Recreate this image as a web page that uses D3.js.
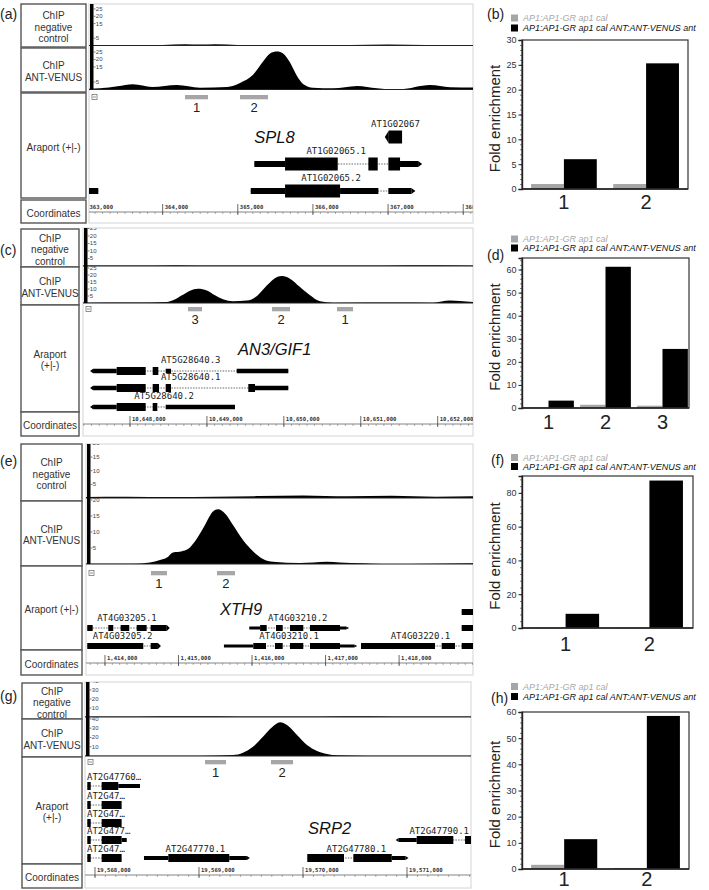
<!DOCTYPE html>
<html><head><meta charset="utf-8">
<script src="https://cdn.jsdelivr.net/npm/d3@7"></script>
<style>body{margin:0;background:#fff} svg{display:block}</style>
</head><body>
<script>
// ================= DATA =================
// qPCR fold enrichment (right column)
const legendLabels = ["AP1:AP1-GR ap1 cal", "AP1:AP1-GR ap1 cal ANT:ANT-VENUS ant"];
const spl8Regions = ["1", "2"];
const spl8Control = [1.0, 1.0];
const spl8Ant = [6.0, 25.3];
const spl8Ticks = [0, 5, 10, 15, 20, 25, 30];

const an3Regions = ["1", "2", "3"];
const an3Control = [0.2, 1.4, 1.0];
const an3Ant = [3.2, 61.2, 25.6];
const an3Ticks = [0, 10, 20, 30, 40, 50, 60];

const xth9Regions = ["1", "2"];
const xth9Control = [0.1, 0.1];
const xth9Ant = [8.4, 87.3];
const xth9Ticks = [0, 20, 40, 60, 80];

const srp2Regions = ["1", "2"];
const srp2Control = [1.6, 0.4];
const srp2Ant = [11.4, 58.5];
const srp2Ticks = [0, 10, 20, 30, 40, 50, 60];

// Track label texts
const trackLabelsA = [["ChIP", "negative", "control"], ["ChIP", "ANT-VENUS"], ["Araport (+|-)"], ["Coordinates"]];
const trackLabelsB = [["ChIP", "negative", "control"], ["ChIP", "ANT-VENUS"], ["Araport", "(+|-)"], ["Coordinates"]];

// ---- SPL8 locus (a)
const spl8Region = [363020, 368130];
const spl8CoordTicks = [363000, 364000, 365000, 366000, 367000, 368000];
const spl8NegTicks = [5, 15, 20, 25];
const spl8AntTicks = [5, 15, 20, 25];
const spl8CtrlPos = [363020, 363500, 364000, 364300, 364500, 364700, 365000, 365500, 366000, 366500, 367000, 367500, 368130];
const spl8CtrlVal = [0.3, 0.2, 0.3, 0.8, 0.6, 0.9, 0.4, 0.3, 0.4, 0.3, 0.6, 0.3, 0.3];
const spl8CovPos = [363020, 363166, 363400, 363606, 363859, 364191, 364497, 364857, 365030, 365203, 365336, 365429, 365522, 365602, 365695, 365788, 365868, 366001, 366267, 366587, 366853, 366986, 367159, 367558, 367825, 368130];
const spl8CovVal = [0.5, 0.8, 2.2, 3.5, 1.7, 3.0, 1.2, 1.7, 4.4, 9.8, 18.6, 24.0, 25.3, 24.0, 17.9, 9.0, 3.7, 1.2, 0.8, 2.4, 0.8, 0.2, 0.2, 3.0, 1.5, 1.3];
const spl8Primers = [[364298, 364604, "1"], [365030, 365402, "2"]];
const spl8Name = ["SPL8", 365220];
const spl8Genes = [
  {name: "AT1G02067", row: 0, strand: "-", blocks: [[367010, 367186, "c"]]},
  {name: "AT1G02065.1", row: 1, strand: "+", blocks: [[365220, 365629, "u"], [365629, 366330, "c"], [366738, 366862, "c"], [367004, 367159, "c"], [367159, 367400, "u"]]},
  {name: "AT1G02065.2", row: 2, strand: "+", blocks: [[365172, 365629, "u"], [365629, 366361, "c"], [366361, 366871, "u"], [367004, 367310, "u"]]},
  {name: "", row: 2, strand: "", blocks: [[362950, 363144, "u"]]}
];

// ---- AN3/GIF1 locus (c)
const an3Region = [10647389, 10652459];
const an3CoordTicks = [10648000, 10649000, 10650000, 10651000, 10652000];
const an3NegTicks = [5, 10, 15, 20, 25];
const an3AntTicks = [5, 10, 15, 20, 25];
const an3CtrlPos = [10647389, 10648000, 10648600, 10649200, 10649800, 10650400, 10651000, 10651600, 10652459];
const an3CtrlVal = [0.3, 0.3, 0.5, 0.3, 0.4, 0.3, 0.3, 0.5, 0.3];
const an3CovPos = [10647389, 10648000, 10648481, 10648559, 10648676, 10648780, 10648884, 10649000, 10649105, 10649209, 10649339, 10649521, 10649651, 10649781, 10649911, 10649976, 10650080, 10650210, 10650340, 10650470, 10650639, 10651500, 10651939, 10652160, 10652290, 10652459];
const an3CovVal = [0.2, 0.3, 0.7, 1.9, 5.5, 8.8, 10.2, 9.0, 5.5, 2.6, 1.2, 1.7, 5.0, 12.6, 18.6, 19.3, 17.4, 11.4, 5.5, 1.2, 0.2, 0.3, 0.2, 1.7, 1.4, 0.7];
const an3Primers = [[10648754, 10648936, "3"], [10649846, 10650080, "2"], [10650691, 10650899, "1"]];
const an3Name = ["AN3/GIF1", 10649404];
const an3Genes = [
  {name: "AT5G28640.3", row: 0, strand: "-", blocks: [[10647520, 10647827, "u"], [10647827, 10648204, "c"], [10648295, 10648368, "c"], [10648464, 10648533, "u"], [10649387, 10650058, "u"]]},
  {name: "AT5G28640.1", row: 1, strand: "-", blocks: [[10647520, 10647827, "u"], [10647827, 10648204, "c"], [10648295, 10648377, "c"], [10648464, 10648533, "c"], [10649538, 10649625, "c"], [10649625, 10650058, "u"]]},
  {name: "AT5G28640.2", row: 2, strand: "-", blocks: [[10647520, 10647827, "u"], [10647827, 10648204, "c"], [10648295, 10648355, "c"], [10648464, 10649365, "u"]]}
];

// ---- XTH9 locus (e)
const xth9Region = [1413742, 1419005];
const xth9CoordTicks = [1414000, 1415000, 1416000, 1417000, 1418000];
const xth9NegTicks = [5, 10, 15, 20];
const xth9AntTicks = [5, 10, 15, 20];
const xth9CtrlPos = [1413742, 1414300, 1414900, 1415500, 1416100, 1416700, 1417300, 1417900, 1418500, 1419005];
const xth9CtrlVal = [0.4, 0.5, 0.4, 0.5, 0.7, 0.9, 0.6, 0.8, 0.5, 0.6];
const xth9CovPos = [1413742, 1414100, 1414381, 1414612, 1414748, 1414843, 1414925, 1415047, 1415129, 1415251, 1415360, 1415469, 1415537, 1415632, 1415741, 1415877, 1416013, 1416149, 1416285, 1416652, 1417019, 1417196, 1417500, 1417781, 1418461, 1419005];
const xth9CovVal = [0.1, 0.1, 0.1, 0.5, 1.25, 2.0, 3.6, 4.0, 4.7, 8.0, 12.2, 16.4, 17.1, 15.8, 12.2, 7.5, 4.0, 1.6, 0.7, 0.3, 0.7, 0.5, 0.2, 0.0, 0.1, 0.2];
const xth9Primers = [[1414626, 1414843, "1"], [1415523, 1415768, "2"]];
const xth9Name = ["XTH9", 1415564];
const xth9Genes = [
  {name: "", row: 0, strand: "", blocks: [[1418851, 1419100, "c"]]},
  {name: "AT4G03205.1", row: 1, strand: "+", blocks: [[1413759, 1413833, "c"], [1414045, 1414113, "c"], [1414213, 1414330, "c"], [1414431, 1414567, "c"], [1414621, 1414840, "c"]]},
  {name: "AT4G03205.2", row: 2, strand: "+", blocks: [[1413759, 1414521, "c"], [1414621, 1414720, "c"]]},
  {name: "AT4G03210.2", row: 1, strand: "+", blocks: [[1415963, 1416110, "u"], [1416110, 1416199, "c"], [1416326, 1416417, "c"], [1416516, 1416697, "c"], [1416788, 1417196, "c"], [1417196, 1417280, "u"]]},
  {name: "", row: 1, strand: "", blocks: [[1418851, 1419100, "c"]]},
  {name: "AT4G03210.1", row: 2, strand: "+", blocks: [[1415618, 1416017, "u"], [1416017, 1416190, "c"], [1416312, 1416417, "c"], [1416516, 1416697, "c"], [1416788, 1417196, "c"], [1417196, 1417390, "u"]]},
  {name: "AT4G03220.1", row: 2, strand: "+", blocks: [[1417482, 1418488, "c"], [1418579, 1418760, "c"], [1418851, 1419100, "c"]]}
];

// ---- SRP2 locus (g)
const srp2Region = [19567904, 19571615];
const srp2CoordTicks = [19568000, 19569000, 19570000, 19571000];
const srp2NegTicks = [10, 20, 30, 40];
const srp2AntTicks = [10, 20, 30, 40];
const srp2CtrlPos = [19567904, 19568400, 19568900, 19569400, 19569900, 19570400, 19570900, 19571615];
const srp2CtrlVal = [0.6, 0.5, 0.7, 0.6, 0.5, 0.8, 0.6, 0.5];
const srp2CovPos = [19567904, 19568500, 19569010, 19569327, 19569423, 19569519, 19569615, 19569702, 19569779, 19569846, 19569942, 19570038, 19570135, 19570231, 19570327, 19570615, 19571000, 19571615];
const srp2CovVal = [0.3, 0.3, 0.4, 1.1, 3.6, 10.0, 20.9, 31.0, 36.4, 33.5, 22.7, 11.9, 5.4, 2.2, 0.7, 0.4, 0.3, 0.4];
const srp2Primers = [[19569058, 19569260, "1"], [19569692, 19569904, "2"]];
const srp2Name = ["SRP2", 19570048];
const srp2Genes = [
  {name: "AT2G47760\u2026", row: 0, strand: "", blocks: [[19567926, 19567959, "c"], [19568064, 19568224, "c"], [19568224, 19568433, "u"]]},
  {name: "AT2G47\u2026", row: 1, strand: "", blocks: [[19567926, 19567959, "c"], [19568064, 19568256, "c"]]},
  {name: "AT2G47\u2026", row: 2, strand: "", blocks: [[19567926, 19567959, "c"], [19568064, 19568256, "c"]]},
  {name: "AT2G477\u2026", row: 3, strand: "", blocks: [[19567926, 19567959, "c"], [19568064, 19568256, "c"], [19568256, 19568305, "u"]]},
  {name: "AT2G47\u2026", row: 4, strand: "", blocks: [[19567926, 19567959, "c"], [19568064, 19568256, "c"]]},
  {name: "AT2G47770.1", row: 4, strand: "+", blocks: [[19568471, 19568705, "u"], [19568705, 19569291, "c"], [19569291, 19569460, "u"]]},
  {name: "AT2G47780.1", row: 4, strand: "+", blocks: [[19570041, 19570394, "c"], [19570484, 19570853, "c"], [19570853, 19570985, "u"]]},
  {name: "AT2G47790.1", row: 3, strand: "-", blocks: [[19570920, 19571093, "u"], [19571093, 19571445, "c"], [19571558, 19571750, "c"]]}
];

// ================= LAYOUT =================
const W = 709, H = 890;
const svg = d3.select("body").append("svg").attr("width", W).attr("height", H)
  .style("font-family", "'Liberation Sans', Arial, sans-serif");

const SANS = "'Liberation Sans', Arial, sans-serif";
const MONO = "'DejaVu Sans Mono', monospace";

const browserPanels = [
  {letter: "(a)", lx: 0, ly: 19, x0: 89, x1: 473, y0: 4, y1: 223, lab: [21, 86],
   boxes: [[4, 47], [48, 92], [93, 198], [200, 223]], labels: trackLabelsA,
   negBase: 45.5, negMax: 28.4, antTop: 47, antBase: 89.5, antMax: 28.3,
   primerY: 97, coordY: 212, rows: [137, 164, 191], hC: 13, hU: 6, tip: 4, labelOff: 10.5, nameY: 142.7,
   region: spl8Region, coordTicks: spl8CoordTicks, negTicks: spl8NegTicks, antTicks: spl8AntTicks,
   ctrlPos: spl8CtrlPos, ctrlVal: spl8CtrlVal, covPos: spl8CovPos, covVal: spl8CovVal,
   primers: spl8Primers, name: spl8Name, genes: spl8Genes},
  {letter: "(c)", lx: 0, ly: 255, x0: 83, x1: 473, y0: 228, y1: 436, lab: [21, 79],
   boxes: [[229, 267], [267, 305], [305, 412], [412, 436]], labels: trackLabelsB,
   negBase: 266, negMax: 25.3, antTop: 267, antBase: 303, antMax: 25.7,
   primerY: 309, coordY: 424, rows: [371, 388, 407], hC: 8, hU: 4.5, tip: 3, labelOff: 7.7, nameY: 355,
   region: an3Region, coordTicks: an3CoordTicks, negTicks: an3NegTicks, antTicks: an3AntTicks,
   ctrlPos: an3CtrlPos, ctrlVal: an3CtrlVal, covPos: an3CovPos, covVal: an3CovVal,
   primers: an3Primers, name: an3Name, genes: an3Genes},
  {letter: "(e)", lx: 0, ly: 466, x0: 86, x1: 473, y0: 444, y1: 675, lab: [21, 82],
   boxes: [[444, 501], [501, 566], [566, 650], [650, 675]], labels: trackLabelsA,
   negBase: 498, negMax: 19.8, antTop: 499, antBase: 564, antMax: 20.3,
   primerY: 573, coordY: 663, rows: [612, 628, 646], hC: 6, hU: 3, tip: 3, labelOff: 7.3, nameY: 615,
   region: xth9Region, coordTicks: xth9CoordTicks, negTicks: xth9NegTicks, antTicks: xth9AntTicks,
   ctrlPos: xth9CtrlPos, ctrlVal: xth9CtrlVal, covPos: xth9CovPos, covVal: xth9CovVal,
   primers: xth9Primers, name: xth9Name, genes: xth9Genes},
  {letter: "(g)", lx: 0, ly: 701, x0: 85, x1: 471, y0: 682, y1: 888, lab: [22, 82],
   boxes: [[683, 719], [719, 757], [757, 864], [864, 888]], labels: trackLabelsB,
   negBase: 717, negMax: 38.9, antTop: 718, antBase: 756, antMax: 41,
   primerY: 762, coordY: 875, rows: [786, 805, 823, 840, 858], hC: 8, hU: 4, tip: 3, labelOff: 6.3, nameY: 834,
   region: srp2Region, coordTicks: srp2CoordTicks, negTicks: srp2NegTicks, antTicks: srp2AntTicks,
   ctrlPos: srp2CtrlPos, ctrlVal: srp2CtrlVal, covPos: srp2CovPos, covVal: srp2CovVal,
   primers: srp2Primers, name: srp2Name, genes: srp2Genes}
];

const barPanels = [
  {letter: "(b)", lx: 487, ly: 19, x0: 522, x1: 688, y0: 40, y1: 189, ymax: 30, pi: 0.2, po: 0.11,
   legY: [14.5, 24.5], xlabY: 209, minor: 1,
   cats: spl8Regions, ctrl: spl8Control, ant: spl8Ant, ticks: spl8Ticks},
  {letter: "(d)", lx: 487, ly: 260, x0: 522, x1: 689, y0: 258, y1: 408, ymax: 65, pi: 0.11, po: 0.02,
   legY: [235.5, 244.5], xlabY: 429, minor: 2,
   cats: an3Regions, ctrl: an3Control, ant: an3Ant, ticks: an3Ticks},
  {letter: "(f)", lx: 491, ly: 465, x0: 522, x1: 693, y0: 476, y1: 628, ymax: 90, pi: 0.2, po: 0.12,
   legY: [454, 463], xlabY: 651, minor: 4,
   cats: xth9Regions, ctrl: xth9Control, ant: xth9Ant, ticks: xth9Ticks},
  {letter: "(h)", lx: 491, ly: 703, x0: 522, x1: 689, y0: 712, y1: 869, ymax: 60, pi: 0.2, po: 0.11,
   legY: [683, 693], xlabY: 886, minor: 2,
   cats: srp2Regions, ctrl: srp2Control, ant: srp2Ant, ticks: srp2Ticks}
];

// ================= GENOME BROWSER PANELS =================
browserPanels.forEach((P, pi) => {
  const g = svg.append("g");
  g.append("text").attr("x", P.lx).attr("y", P.ly).attr("font-size", 14).attr("fill", "#222").text(P.letter);

  // label column boxes
  P.boxes.forEach((b, i) => {
    g.append("rect").attr("x", P.lab[0]).attr("y", b[0]).attr("width", P.lab[1] - P.lab[0]).attr("height", b[1] - b[0])
      .attr("fill", "#fff").attr("stroke", "#555").attr("stroke-width", 1.4);
    const lines = P.labels[i];
    const cy = (b[0] + b[1]) / 2 + 1.5;
    const lh = 11.5;
    lines.forEach((t, j) => {
      g.append("text").attr("x", (P.lab[0] + P.lab[1]) / 2).attr("y", cy + (j - (lines.length - 1) / 2) * lh)
        .attr("text-anchor", "middle").attr("dominant-baseline", "central")
        .attr("font-size", 10).attr("fill", "#333").text(t);
    });
  });

  // data frame
  g.append("rect").attr("x", P.x0).attr("y", P.y0).attr("width", P.x1 - P.x0).attr("height", P.y1 - P.y0)
    .attr("fill", "#fff").attr("stroke", "#d4d4d4").attr("stroke-width", 1);

  const clipId = "clip" + pi;
  svg.append("clipPath").attr("id", clipId).append("rect")
    .attr("x", P.x0).attr("y", P.y0).attr("width", P.x1 - P.x0).attr("height", P.y1 - P.y0);
  const d = g.append("g").attr("clip-path", `url(#${clipId})`);

  const x = d3.scaleLinear().domain(P.region).range([P.x0, P.x1]);
  const yNeg = d3.scaleLinear().domain([0, P.negMax]).range([P.negBase, P.y0]);
  const yAnt = d3.scaleLinear().domain([0, P.antMax]).range([P.antBase, P.antTop]);

  // coverage areas
  const areaNeg = d3.area().x((v, i) => x(P.ctrlPos[i])).y0(P.negBase).y1(v => yNeg(v)).curve(d3.curveMonotoneX);
  const areaAnt = d3.area().x((v, i) => x(P.covPos[i])).y0(P.antBase).y1(v => yAnt(v)).curve(d3.curveMonotoneX);
  d.append("path").datum(P.ctrlVal).attr("d", areaNeg).attr("fill", "#000");
  d.append("path").datum(P.covVal).attr("d", areaAnt).attr("fill", "#000");
  [P.negBase, P.antBase].forEach(yb => d.append("line").attr("x1", P.x0).attr("x2", P.x1).attr("y1", yb).attr("y2", yb)
    .attr("stroke", "#222").attr("stroke-width", 1));

  // scale bar
  const bx = P.x0 + 1;
  d.append("rect").attr("x", bx).attr("y", P.y0).attr("width", 3.5).attr("height", P.antBase - P.y0).attr("fill", "#000");
  const scaleTicks = (ticks, ys) => ticks.forEach(t => {
    const yy = ys(t);
    d.append("line").attr("x1", bx + 3.5).attr("x2", bx + 5.5).attr("y1", yy).attr("y2", yy).attr("stroke", "#444").attr("stroke-width", 0.7);
    d.append("text").attr("x", bx + 5.8).attr("y", yy).attr("dominant-baseline", "central")
      .attr("font-size", 6).attr("fill", "#444").text(t);
  });
  scaleTicks(P.negTicks, yNeg);
  scaleTicks(P.antTicks, yAnt);

  // collapse icon
  const iy = P.primerY - 2.5, ix = P.x0 + 3;
  d.append("rect").attr("x", ix).attr("y", iy).attr("width", 5).attr("height", 5).attr("fill", "#fff").attr("stroke", "#777").attr("stroke-width", 0.8);
  d.append("line").attr("x1", ix + 1).attr("x2", ix + 4).attr("y1", iy + 2.5).attr("y2", iy + 2.5).attr("stroke", "#777").attr("stroke-width", 0.8);

  // primer amplicons
  P.primers.forEach(p => {
    d.append("rect").attr("x", x(p[0])).attr("y", P.primerY - 2).attr("width", x(p[1]) - x(p[0])).attr("height", 4.3).attr("fill", "#a6a6a6");
    d.append("text").attr("x", (x(p[0]) + x(p[1])) / 2).attr("y", P.primerY + 15).attr("text-anchor", "middle")
      .attr("font-size", 13).attr("fill", "#222").text(p[2]);
  });

  // gene name
  d.append("text").attr("x", x(P.name[1])).attr("y", P.nameY).attr("font-size", 16.5).attr("font-style", "italic")
    .attr("fill", "#111").text(P.name[0]);

  // transcripts
  P.genes.forEach(t => {
    const y = P.rows[t.row];
    const s = d3.min(t.blocks, b => b[0]), e = d3.max(t.blocks, b => b[1]);
    d.append("line").attr("x1", x(s)).attr("x2", x(e)).attr("y1", y).attr("y2", y)
      .attr("stroke", "#444").attr("stroke-width", 0.8).attr("stroke-dasharray", "1.5,1.2");
    t.blocks.forEach(b => {
      const h = b[2] === "c" ? P.hC : P.hU;
      d.append("rect").attr("x", x(b[0])).attr("y", y - h / 2).attr("width", Math.max(1, x(b[1]) - x(b[0]))).attr("height", h).attr("fill", "#000");
    });
    if (t.strand === "+") {
      const last = t.blocks[t.blocks.length - 1];
      const h = last[2] === "c" ? P.hC : P.hU;
      const xe = x(last[1]);
      d.append("path").attr("d", `M${xe},${y - h / 2}L${xe + P.tip},${y}L${xe},${y + h / 2}Z`).attr("fill", "#000");
    } else if (t.strand === "-") {
      const first = t.blocks[0];
      const h = first[2] === "c" ? P.hC : P.hU;
      const xs = x(first[0]);
      d.append("path").attr("d", `M${xs},${y - h / 2}L${xs - P.tip},${y}L${xs},${y + h / 2}Z`).attr("fill", "#000");
    }
    if (t.name) {
      const w = t.name.length * 9 * 0.602;
      let left = (x(s) + x(e)) / 2 - w / 2;
      left = Math.max(P.x0 + 2, Math.min(P.x1 - 2 - w, left));
      d.append("text").attr("x", left).attr("y", y - P.labelOff).attr("font-family", MONO).attr("font-size", 9)
        .attr("fill", "#222").text(t.name);
    }
  });

  // coordinate axis
  d.append("line").attr("x1", P.x0).attr("x2", P.x1).attr("y1", P.coordY).attr("y2", P.coordY).attr("stroke", "#666").attr("stroke-width", 0.8);
  const minor = d3.range(Math.ceil(P.region[0] / 100) * 100, P.region[1], 100);
  d.selectAll(null).data(minor).enter().append("line")
    .attr("x1", v => x(v)).attr("x2", v => x(v)).attr("y1", P.coordY).attr("y2", P.coordY + 2)
    .attr("stroke", "#777").attr("stroke-width", 0.6);
  const fmt = d3.format(",");
  P.coordTicks.forEach(t => {
    d.append("line").attr("x1", x(t)).attr("x2", x(t)).attr("y1", P.coordY - 8).attr("y2", P.coordY + 3).attr("stroke", "#444").attr("stroke-width", 0.8);
    d.append("text").attr("x", x(t) + 2).attr("y", P.coordY - 3).attr("font-family", MONO).attr("font-weight", "bold")
      .attr("font-size", 5.6).attr("fill", "#333").text(fmt(t));
  });
});

// ================= BAR CHARTS =================
barPanels.forEach(B => {
  const g = svg.append("g");
  const x = d3.scaleBand().domain(B.cats).range([B.x0, B.x1]).paddingInner(B.pi).paddingOuter(B.po);
  const xs = d3.scaleBand().domain(["ctrl", "ant"]).range([0, x.bandwidth()]);
  const y = d3.scaleLinear().domain([0, B.ymax]).range([B.y1, B.y0]);

  g.append("text").attr("x", B.lx).attr("y", B.ly).attr("font-size", 14).attr("fill", "#222").text(B.letter);

  // legend
  const lcol = ["#a6a6a6", "#000"], tcol = ["#a8a8a8", "#111"];
  legendLabels.forEach((lab, i) => {
    g.append("rect").attr("x", 511).attr("y", B.legY[i]).attr("width", 7).attr("height", 7).attr("fill", lcol[i]);
    g.append("text").attr("x", 523).attr("y", B.legY[i] + 6.8).attr("font-size", 9).attr("font-style", "italic")
      .attr("fill", tcol[i]).text(lab);
  });

  // bars
  B.cats.forEach((c, i) => {
    g.append("rect").attr("x", x(c) + xs("ctrl")).attr("width", xs.bandwidth()).attr("y", y(B.ctrl[i]))
      .attr("height", y(0) - y(B.ctrl[i])).attr("fill", "#a6a6a6");
    g.append("rect").attr("x", x(c) + xs("ant")).attr("width", xs.bandwidth()).attr("y", y(B.ant[i]))
      .attr("height", y(0) - y(B.ant[i])).attr("fill", "#000");
  });

  // frame
  g.append("rect").attr("x", B.x0).attr("y", B.y0).attr("width", B.x1 - B.x0).attr("height", B.y1 - B.y0)
    .attr("fill", "none").attr("stroke", "#333").attr("stroke-width", 1.2);

  // axes
  const minorVals = d3.range(0, B.ymax + 1e-9, B.minor);
  g.append("g").attr("transform", `translate(${B.x0},0)`)
    .call(d3.axisLeft(y).tickValues(minorVals).tickSize(2).tickFormat(""))
    .call(a => a.select(".domain").remove())
    .call(a => a.selectAll("line").attr("stroke", "#444").attr("stroke-width", 0.7));
  g.append("g").attr("transform", `translate(${B.x0},0)`)
    .call(d3.axisLeft(y).tickValues(B.ticks).tickSize(3.5).tickPadding(2).tickFormat(d3.format("d")))
    .call(a => a.select(".domain").attr("stroke", "#222").attr("stroke-width", 1.4))
    .call(a => a.selectAll("line").attr("stroke", "#222"))
    .call(a => a.selectAll("text").attr("font-size", 9).attr("fill", "#333").attr("font-family", SANS));
  g.append("line").attr("x1", B.x0).attr("x2", B.x1).attr("y1", B.y1).attr("y2", B.y1).attr("stroke", "#222").attr("stroke-width", 1.4);

  // category labels
  B.cats.forEach(c => {
    g.append("text").attr("x", x(c) + x.bandwidth() / 2).attr("y", B.xlabY).attr("text-anchor", "middle")
      .attr("font-size", 20).attr("fill", "#222").text(c);
  });

  // y title
  g.append("text").attr("transform", `translate(500,${(B.y0 + B.y1) / 2 + 4}) rotate(-90)`)
    .attr("text-anchor", "middle").attr("font-size", 15).attr("fill", "#222").text("Fold enrichment");
});
</script>
</body></html>
